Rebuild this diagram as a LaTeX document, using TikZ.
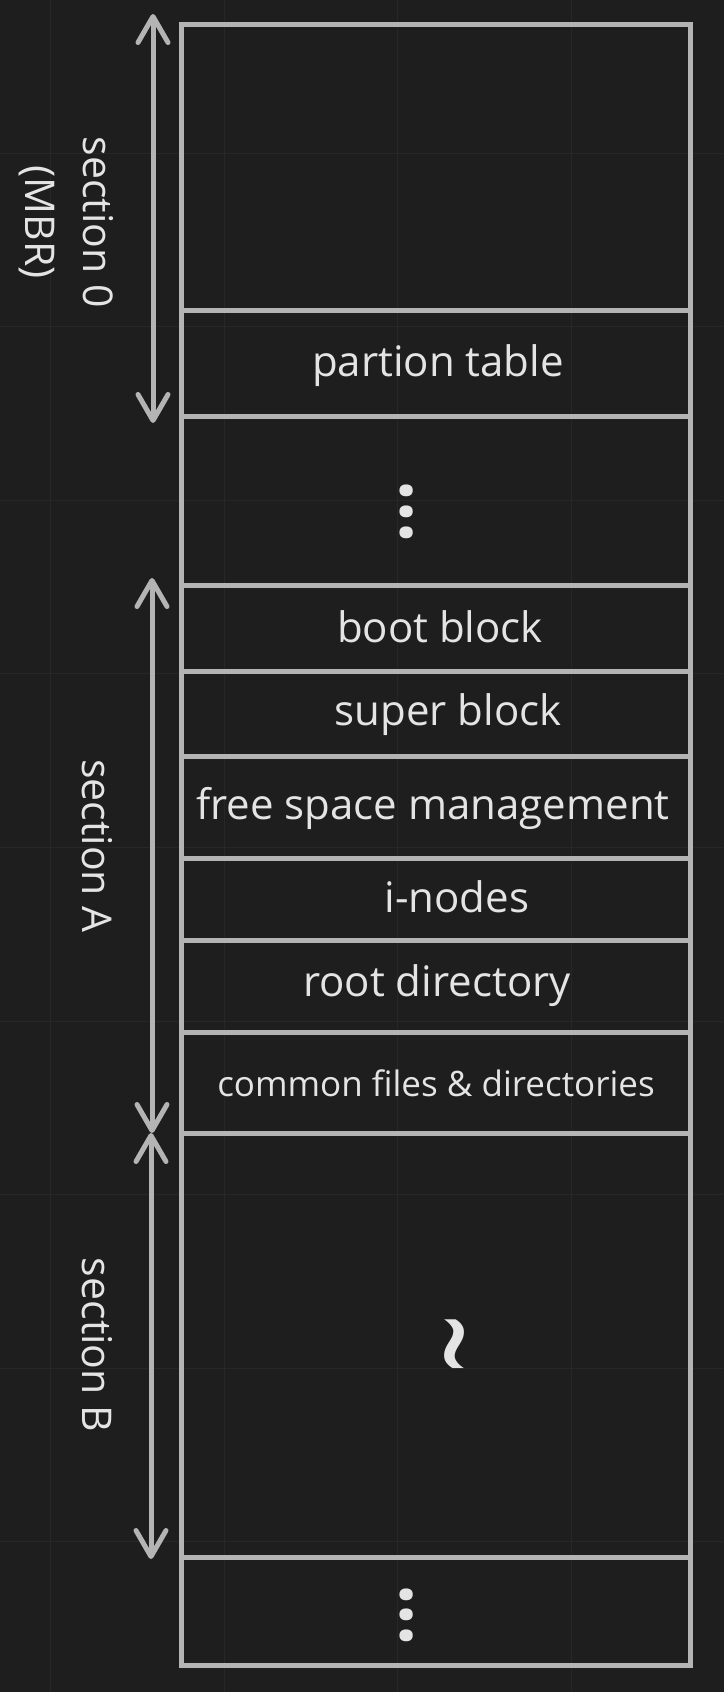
\documentclass[tikz,border=0pt]{standalone}
\usepackage{fontspec}
\setmainfont{Open Sans}
\usetikzlibrary{arrows.meta}
\definecolor{bgcol}{RGB}{30,30,30}
\definecolor{gridcol}{RGB}{39,39,39}
\definecolor{linecol}{RGB}{180,180,180}
\definecolor{textcol}{RGB}{228,228,228}
\begin{document}
\begin{tikzpicture}[x=1pt,y=-1pt,
  frame/.style={draw=linecol, line width=5pt},
  barb/.tip={Straight Barb[length=26pt,width=30pt,round]},
  span/.style={draw=linecol, line width=5pt, line cap=round, barb-barb},
  lbl/.style={text=textcol, inner sep=0pt, font=\fontsize{42}{50}\selectfont},
  small/.style={text=textcol, inner sep=0pt, font=\fontsize{35}{42}\selectfont},
  side/.style={text=textcol, inner sep=0pt, rotate=-90, align=center, font=\fontsize{41}{58}\selectfont},
  vdots/.style={text=textcol, inner sep=0pt, rotate=-90, font=\fontsize{55}{55}\selectfont},
  squiggle/.style={text=textcol, inner sep=0pt, rotate=-90, font=\fontsize{104}{104}\selectfont},
]
% background and faint grid
\fill[bgcol] (0,0) rectangle (724,1692);
\useasboundingbox (0,0) rectangle (724,1692);
\foreach \gx in {50.5,224.1,397.7,571.3}
  \draw[gridcol, line width=1pt] (\gx,0) -- (\gx,1692);
\foreach \gy in {153,326.6,500.2,673.8,847.4,1021,1194.6,1368.2,1541.8}
  \draw[gridcol, line width=1pt] (0,\gy) -- (724,\gy);

% outer frame and block separators
\draw[frame] (181,24) rectangle (690,1665);
\foreach \ly in {310,416,585,671,756,858,940,1032,1133,1557}
  \draw[frame] (181,\ly) -- (690,\ly);

% block labels
\node[lbl] (pt) at (438,366) {partion table};
\node[vdots] (d1) at (400,512) {•••};
\node[lbl] (boot) at (440,627) {boot block};
\node[lbl] (super) at (448,715) {super block};
\node[lbl] (free) at (433,808) {free space management};
\node[lbl] (inodes) at (457,897) {i-nodes};
\node[lbl] (root) at (437,986) {root directory};
\node[small] (common) at (436,1083) {common files \& directories};
\node[squiggle] (gap) at (432,1344) {\scalebox{1}[1.5]{\textasciitilde}};
\node[vdots] (d2) at (400,1615) {•••};

% section labels
\node[side] (s0) at (66,222) {section 0\\(MBR)};
\node[side] (sA) at (97,846) {section A};
\node[side] (sB) at (97,1345) {section B};

% span arrows
\coordinate (a0t) at (153,14);
\coordinate (a0b) at (153,423);
\coordinate (aAt) at (152,578);
\coordinate (aAb) at (152,1133);
\coordinate (aBt) at (151,1133);
\coordinate (aBb) at (151,1559);
\draw[span] (a0t) -- (a0b);
\draw[span] (aAt) -- (aAb);
\draw[span] (aBt) -- (aBb);
\end{tikzpicture}
\end{document}
